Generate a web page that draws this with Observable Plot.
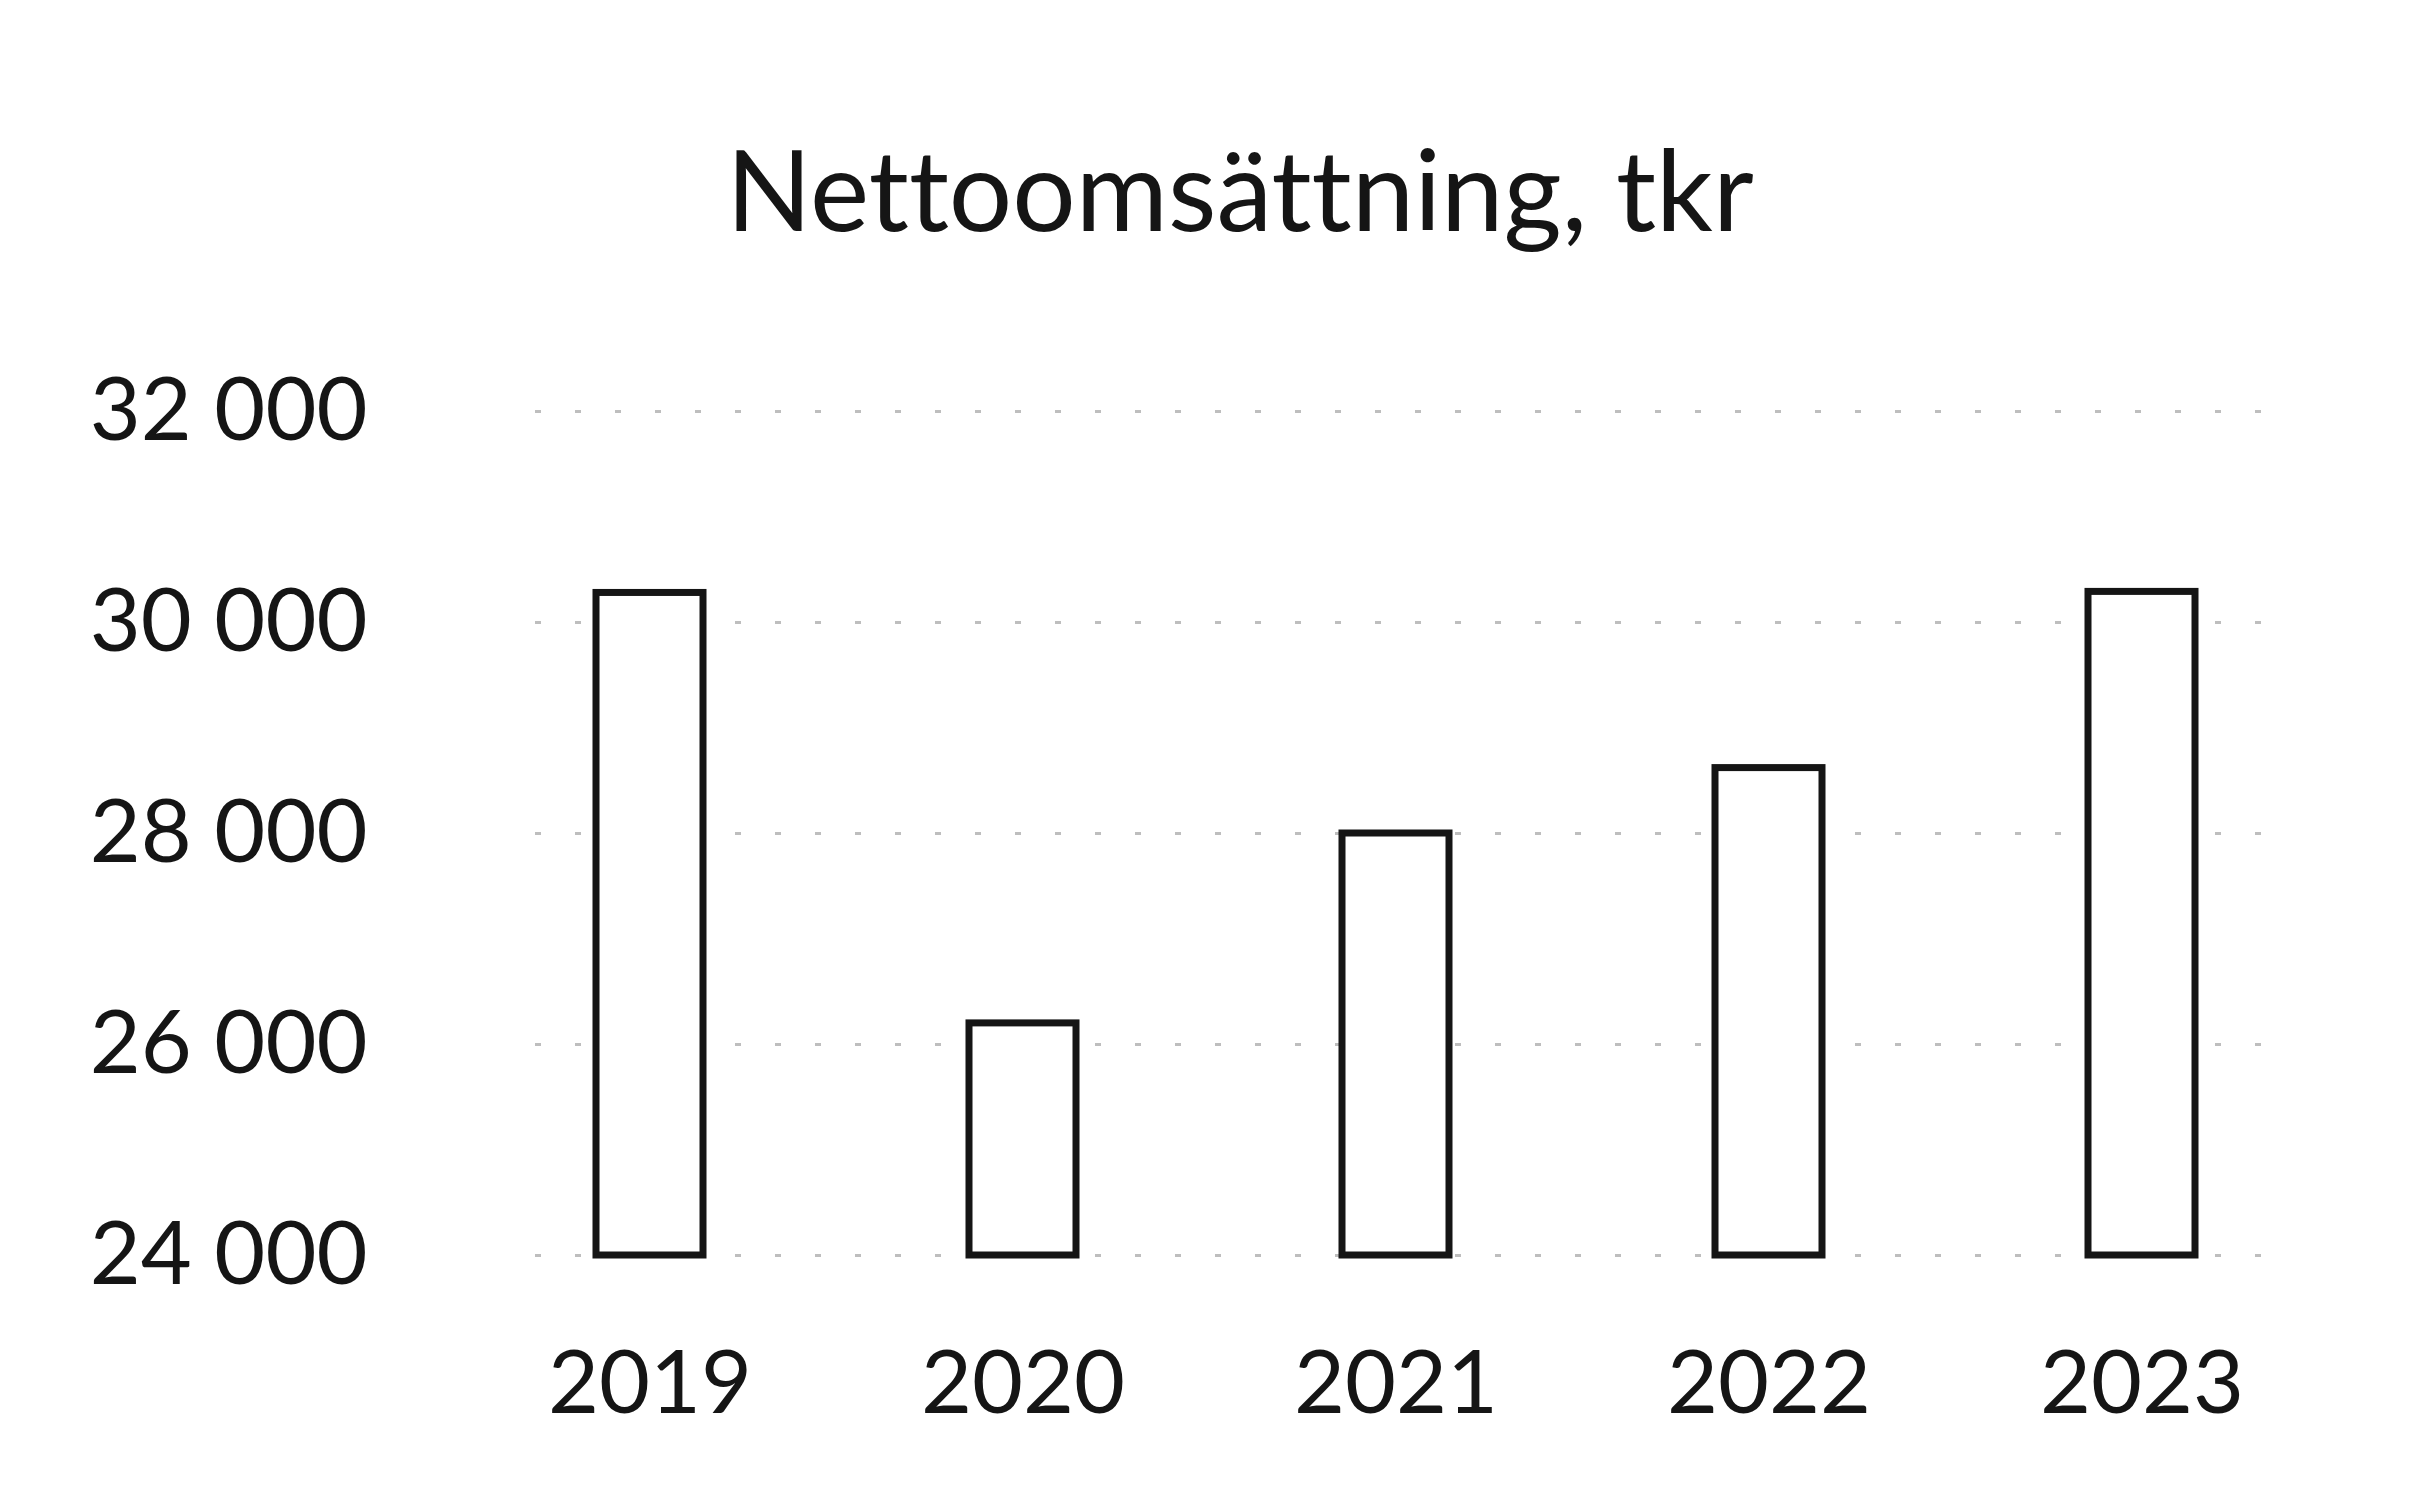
<!DOCTYPE html>
<html>
<head>
<meta charset="utf-8">
<script src="https://cdn.jsdelivr.net/npm/d3@7"></script>
<script src="https://cdn.jsdelivr.net/npm/@observablehq/plot@0.6"></script>
<style>
  html, body { margin: 0; padding: 0; background: #fff; }
  #wrap { width: 2433px; height: 1497px; position: relative; overflow: hidden; }
  #title { height: 300px; position: relative; font-family: Lato, "Open Sans", sans-serif; color: #151515; font-variant-ligatures: none; font-feature-settings: "liga" 0, "clig" 0; }
  #title span { position: absolute; left: 1240px; top: 132px; transform: translateX(-50%); font-size: 112px; line-height: 1; white-space: nowrap; letter-spacing: 0px; }
</style>
</head>
<body>
<div id="wrap">
  <div id="title"><span>Nettoomsättning, tkr</span></div>
  <div id="chart"></div>
</div>
<script>
const years = ["2019", "2020", "2021", "2022", "2023"];
const values = [30280, 26200, 28000, 28620, 30290];
const yTicks = [24000, 26000, 28000, 30000, 32000];
const yBase = 24000;

const data = years.map((year, i) => ({ year, value: values[i] }));
const fmt = d => d3.format(",")(d).replace(/,/g, " ");

const chart = Plot.plot({
  width: 2433,
  height: 1197,
  marginTop: 111,
  marginBottom: 242,
  marginLeft: 463,
  marginRight: 104,
  style: { fontFamily: "Lato, 'Open Sans', sans-serif", color: "#151515", background: "#fff" },
  x: { domain: years, paddingInner: 0.713, paddingOuter: 0.3565, tickSize: 0, tickPadding: 95, label: null },
  y: { domain: [24000, 32000], ticks: yTicks, tickFormat: fmt, tickSize: 0, tickPadding: 96, label: null },
  marks: [
    Plot.ruleY(yTicks, { stroke: "#888", strokeOpacity: 0.55, strokeWidth: 3, strokeDasharray: "6,34", insetLeft: 72, insetRight: 57 }),
    Plot.barY(data, { x: "year", y1: yBase, y2: "value", fill: "#fff", stroke: "#151515", strokeWidth: 7 })
  ]
});
d3.select(chart).selectAll("text").style("font-size", "88px").attr("fill", "#151515");
document.getElementById("chart").appendChild(chart);
</script>
</body>
</html>
